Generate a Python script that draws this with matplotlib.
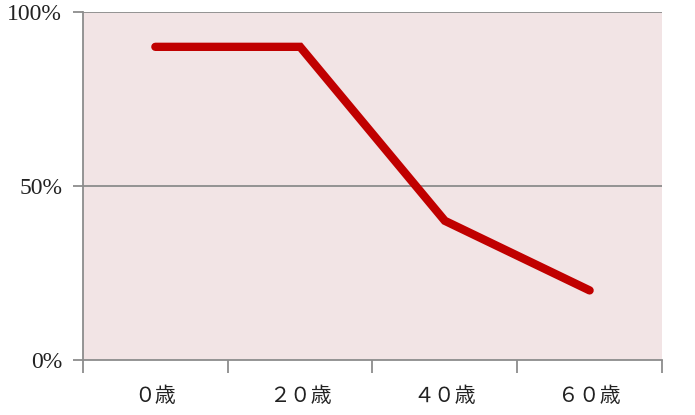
import matplotlib
matplotlib.use("Agg")
import matplotlib.pyplot as plt
import numpy as np

categories = ["０歳", "２０歳", "４０歳", "６０歳"]
values = [90, 90, 40, 20]
yticks = [0, 50, 100]
ytick_labels = ["0%", "50%", "100%"]

fonts = ["Liberation Serif", "Noto Sans CJK JP", "DejaVu Sans"]

fig = plt.figure(figsize=(6.95, 4.15), dpi=100)
ax = fig.add_axes([0.1194, 0.1325, 0.8331, 0.8385])
ax.set_facecolor("#f2e4e5")

x = np.arange(len(categories))
ax.plot(x, values, color="#c00000", linewidth=6, solid_capstyle="round",
        solid_joinstyle="miter", zorder=3)

ax.set_xlim(-0.5, len(categories) - 0.5)
ax.set_ylim(0, 100)

for y in yticks[1:]:
    ax.axhline(y, color="#8c8c8c", linewidth=1.3, zorder=1)

ax.set_yticks(yticks)
ax.set_yticklabels(ytick_labels, family=fonts, fontsize=17, color="#222222")
ax.tick_params(axis="y", length=7, width=1.3, color="#8c8c8c", pad=8)

ax.set_xticks(x)
ax.set_xticklabels(categories, family=fonts, fontsize=15, color="#222222")
ax.set_xticks(np.arange(-0.5, len(categories)), minor=True)
ax.tick_params(axis="x", which="major", length=0, pad=20)
ax.tick_params(axis="x", which="minor", length=9, width=1.3, color="#8c8c8c")

for side in ["top", "right"]:
    ax.spines[side].set_visible(False)
for side in ["left", "bottom"]:
    ax.spines[side].set_color("#8c8c8c")
    ax.spines[side].set_linewidth(1.3)

fig.savefig("out.png", dpi=100)
